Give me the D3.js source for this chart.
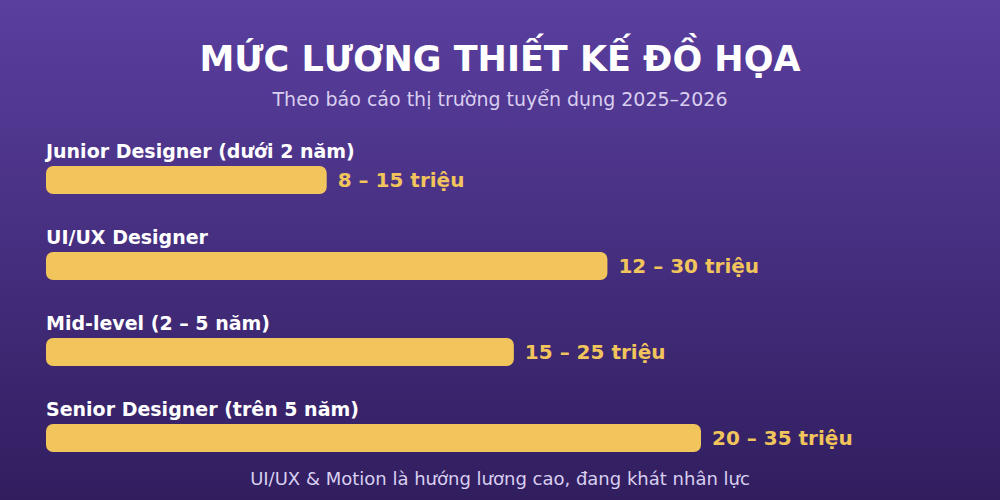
<!DOCTYPE html>
<html>
<head>
<meta charset="utf-8">
<script src="https://cdn.jsdelivr.net/npm/d3@7"></script>
<style>
  html, body { margin: 0; padding: 0; background: #2f1e5e; }
  svg { display: block; }
</style>
</head>
<body>
<div id="chart"></div>
<script>
// data
let roles = ["Junior Designer (dưới 2 năm)", "UI/UX Designer", "Mid-level (2 – 5 năm)", "Senior Designer (trên 5 năm)"];
let minSalary = [8, 12, 15, 20];
let maxSalary = [15, 30, 25, 35];
let unit = "triệu";

let title = "MỨC LƯƠNG THIẾT KẾ ĐỒ HỌA",
    subtitle = "Theo báo cáo thị trường tuyển dụng 2025–2026",
    footer = "UI/UX & Motion là hướng lương cao, đang khát nhân lực";

let width = 1000,
    height = 500,
    margin = { left: 46, top: 140 },
    rowStep = 86,
    barH = 28,
    font = "'DejaVu Sans', sans-serif";

let rows = roles.map(function (r, i) {
    return { role: r, lo: minSalary[i], hi: maxSalary[i] };
});

let svg = d3.select("#chart").append("svg")
    .attr("width", width)
    .attr("height", height);

// background gradient
let grad = svg.append("defs").append("linearGradient")
    .attr("id", "bg")
    .attr("x1", 0).attr("y1", 0).attr("x2", 0).attr("y2", 1);
grad.append("stop").attr("offset", "0%").attr("stop-color", "#5a3f9f");
grad.append("stop").attr("offset", "100%").attr("stop-color", "#311e5f");

svg.append("rect")
    .attr("width", width)
    .attr("height", height)
    .attr("fill", "url(#bg)");

// scales
let x = d3.scaleLinear()
    .domain([0, d3.max(maxSalary)])
    .range([margin.left, 701]);

let y = d3.scaleBand()
    .domain(roles)
    .range([margin.top, margin.top + rowStep * roles.length]);

// title
svg.append("text")
    .attr("x", width / 2)
    .attr("y", 71)
    .attr("text-anchor", "middle")
    .attr("font-family", font)
    .attr("font-weight", "bold")
    .attr("font-size", "35px")
    .attr("fill", "#ffffff")
    .text(title);

svg.append("text")
    .attr("x", width / 2)
    .attr("y", 106)
    .attr("text-anchor", "middle")
    .attr("font-family", font)
    .attr("font-size", "19px")
    .attr("fill", "#d9cff0")
    .text(subtitle);

let row = svg.append("g")
    .selectAll("g")
    .data(rows)
    .enter().append("g")
    .attr("transform", function (d) {
        return "translate(0," + y(d.role) + ")";
    });

row.append("text")
    .attr("x", margin.left)
    .attr("y", 18)
    .attr("font-family", font)
    .attr("font-weight", "bold")
    .attr("font-size", "19px")
    .attr("fill", "#ffffff")
    .text(function (d) { return d.role; });

row.append("rect")
    .attr("x", x(0))
    .attr("y", 26)
    .attr("width", function (d) { return x(d.hi) - x(0); })
    .attr("height", barH)
    .attr("rx", 7)
    .attr("fill", "#f2c45c");

row.append("text")
    .attr("x", function (d) { return x(d.hi) + 11; })
    .attr("y", 26 + barH / 2)
    .attr("dy", "0.36em")
    .attr("font-family", font)
    .attr("font-weight", "bold")
    .attr("font-size", "20px")
    .attr("fill", "#f2c45c")
    .text(function (d) { return d.lo + " – " + d.hi + " " + unit; });

svg.append("text")
    .attr("x", width / 2)
    .attr("y", 485)
    .attr("text-anchor", "middle")
    .attr("font-family", font)
    .attr("font-size", "18px")
    .attr("fill", "#d9cff0")
    .text(footer);
</script>
</body>
</html>
